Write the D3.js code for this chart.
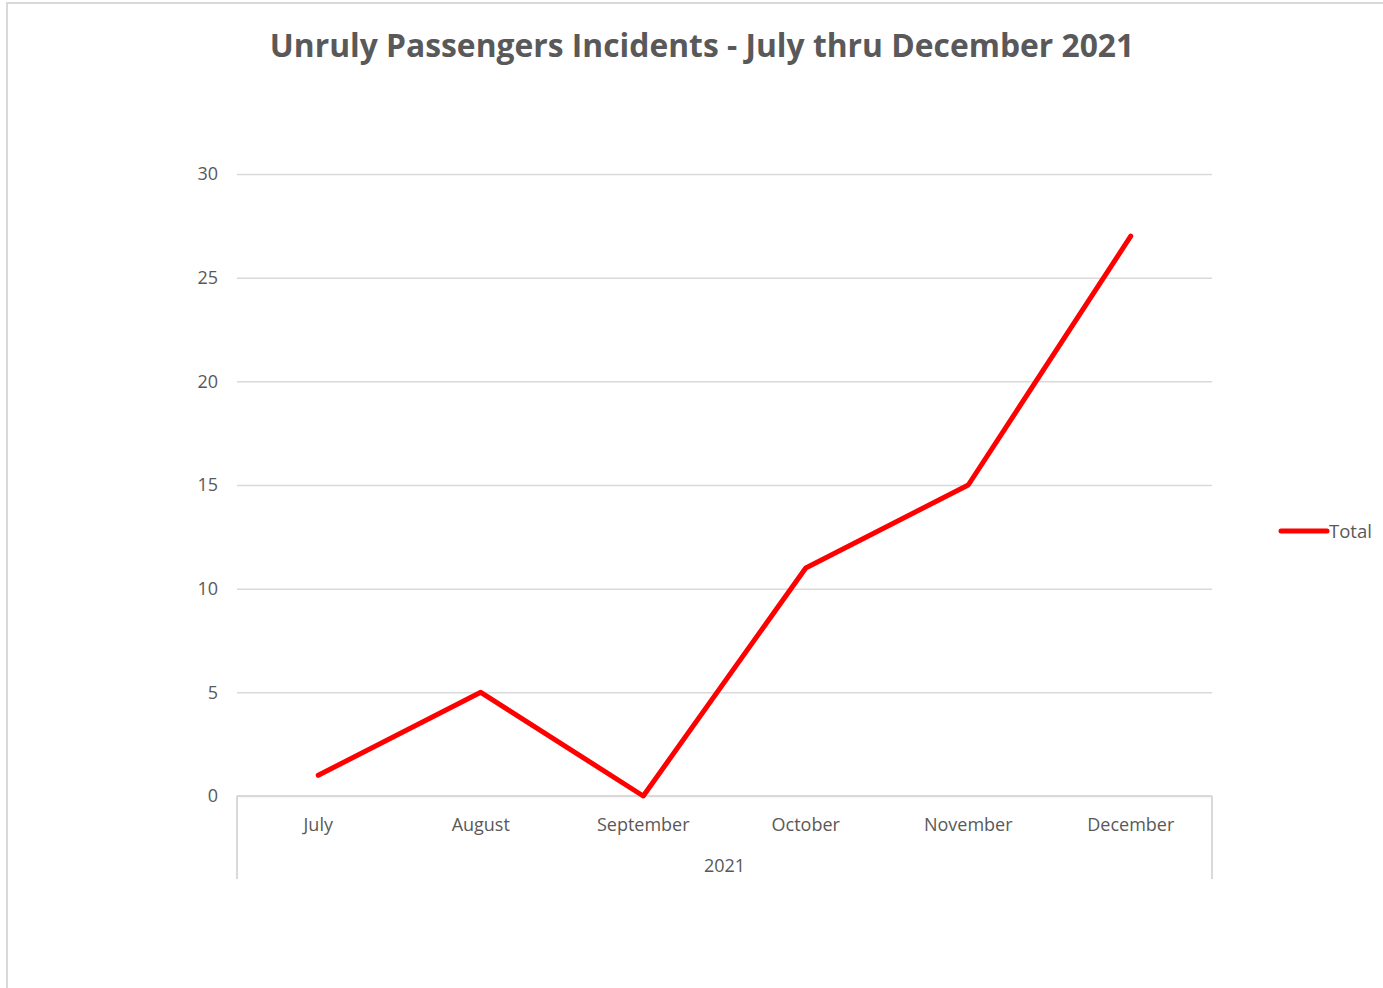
<!DOCTYPE html>
<html>
<head>
<meta charset="utf-8">
<script src="https://cdn.jsdelivr.net/npm/d3@7"></script>
<style>
  body { margin: 0; background: #fff; }
  svg { display: block; font-family: "Open Sans", "Liberation Sans", sans-serif; }
</style>
</head>
<body>
<svg id="chart" width="1383" height="988"></svg>
<script>
var months = ['July', 'August', 'September', 'October', 'November', 'December']
var totals = [1, 5, 0, 11, 15, 27]
var yTicks = [0, 5, 10, 15, 20, 25, 30]
var yearLabel = '2021'
var seriesName = 'Total'
var chartTitle = 'Unruly Passengers Incidents - July thru December 2021'

var svg = d3.select('#chart')
var grey = '#595959'
var gridCol = '#d9d9d9'

// outer chart-area border (clipped by the viewport on right and bottom)
svg.append('rect')
    .attr('x', 7).attr('y', 3)
    .attr('width', 1400).attr('height', 1000)
    .attr('fill', 'none')
    .attr('stroke', gridCol)
    .attr('stroke-width', 2)

var plot = {left: 237, right: 1212, top: 174, bottom: 796}

var x = d3.scaleBand()
    .domain(months)
    .range([plot.left, plot.right])

var y = d3.scaleLinear()
    .domain([0, 30])
    .range([plot.bottom, plot.top])

// title
svg.append('text')
    .attr('x', 702).attr('y', 57)
    .attr('text-anchor', 'middle')
    .attr('font-size', 31.8)
    .attr('font-weight', 'bold')
    .attr('fill', grey)
    .text(chartTitle)

// gridlines + y labels
var yAxis = d3.axisLeft(y)
    .tickValues(yTicks)
    .tickSize(-(plot.right - plot.left))
    .tickPadding(19)

svg.append('g')
    .attr('transform', `translate(${plot.left},0)`)
    .call(yAxis)
    .call(g => g.select('.domain').remove())
    .call(g => g.selectAll('.tick line').attr('stroke', gridCol).attr('stroke-width', 1.5))
    .call(g => g.selectAll('.tick text')
        .attr('fill', grey)
        .attr('font-size', 18)
        .attr('font-family', '"Open Sans", "Liberation Sans", sans-serif'))

// category axis
var xAxis = d3.axisBottom(x).tickSize(0).tickPadding(22)

svg.append('g')
    .attr('transform', `translate(0,${plot.bottom})`)
    .call(xAxis)
    .call(g => g.select('.domain').remove())
    .call(g => g.selectAll('.tick text')
        .attr('fill', grey)
        .attr('font-size', 18)
        .attr('font-family', '"Open Sans", "Liberation Sans", sans-serif'))

var frame = svg.append('g')
    .attr('stroke', gridCol)
    .attr('stroke-width', 2)
frame.append('line')
    .attr('x1', plot.left).attr('x2', plot.right)
    .attr('y1', plot.bottom).attr('y2', plot.bottom)
frame.append('line')
    .attr('x1', plot.left).attr('x2', plot.left)
    .attr('y1', plot.bottom).attr('y2', 879)
frame.append('line')
    .attr('x1', plot.right).attr('x2', plot.right)
    .attr('y1', plot.bottom).attr('y2', 879)

svg.append('text')
    .attr('x', (plot.left + plot.right) / 2)
    .attr('y', 872)
    .attr('text-anchor', 'middle')
    .attr('font-size', 18)
    .attr('fill', grey)
    .text(yearLabel)

// the series
var line = d3.line()
    .x((d, i) => x(months[i]) + x.bandwidth() / 2)
    .y(d => y(d))

svg.append('path')
    .attr('d', line(totals))
    .attr('fill', 'none')
    .attr('stroke', '#ff0000')
    .attr('stroke-width', 5)
    .attr('stroke-linecap', 'round')
    .attr('stroke-linejoin', 'round')

// legend
var legend = svg.append('g').attr('transform', 'translate(1281,531)')
legend.append('line')
    .attr('x1', 0).attr('x2', 46)
    .attr('stroke', '#ff0000')
    .attr('stroke-width', 5)
    .attr('stroke-linecap', 'round')
legend.append('text')
    .attr('x', 48).attr('y', 7)
    .attr('font-size', 18.5)
    .attr('fill', grey)
    .text(seriesName)
</script>
</body>
</html>
